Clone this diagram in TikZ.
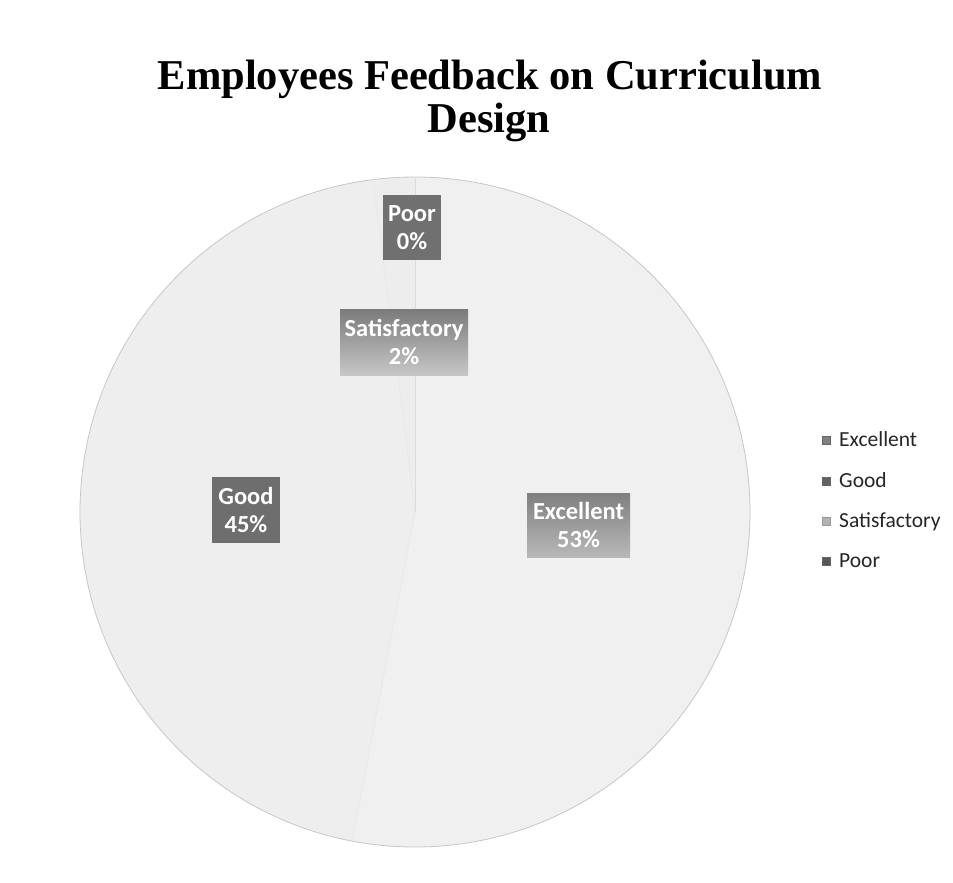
\documentclass[tikz,border=0pt]{standalone}
\usepackage{fontspec}
\setmainfont{Liberation Serif}
\newfontfamily\calfont{Carlito}
\begin{document}
\begin{tikzpicture}[x=1pt,y=-1pt,
  titletext/.style={font=\fontsize{42.5}{46}\selectfont\bfseries, text=black, anchor=base, inner sep=0},
  slice/.style={draw=black!14, line width=0.8pt},
  lbl/.style={font=\calfont\bfseries\fontsize{24.5}{28}\selectfont, text=white, align=center, inner sep=0},
  legtext/.style={font=\calfont\fontsize{21.5}{24}\selectfont, text=black!85, anchor=base west, inner sep=0},
  legmark/.style={minimum size=8pt, inner sep=0, draw=black!60, line width=0.4pt}
]
\useasboundingbox (0,0) rectangle (953,883);
\fill[white] (0,0) rectangle (953,883);
% pie (polar angles are mirrored because y points down)
\coordinate (c) at (415,512);
\fill[black!6] (c) -- ++(-90:335) arc[start angle=-90, end angle=100.8, radius=335] -- cycle;
\fill[black!6.5] (c) -- ++(100.8:335) arc[start angle=100.8, end angle=262.8, radius=335] -- cycle;
\fill[black!7] (c) -- ++(262.8:335) arc[start angle=262.8, end angle=270, radius=335] -- cycle;
\draw[black!22, line width=0.8pt] (c) circle[radius=335];
\draw[slice] (c) -- ++(0,-335);
\draw[slice, draw=black!9] (c) -- ++(-62.8,329);
\draw[slice, draw=black!9] (c) -- ++(-42,-332.4);
% title
\node[titletext] (t1) at (490,89) {Employees Feedback on Curriculum};
\node[titletext] (t2) at (489,132.7) {Design};
% data labels
\node[lbl, fill=black!56, minimum width=58pt, minimum height=65pt] (poor) at (412,227.5) {Poor\\0\%};
\node[lbl, top color=black!52, bottom color=black!22, minimum width=128pt, minimum height=66pt] (sat) at (404,342) {Satisfactory\\2\%};
\node[lbl, fill=black!57, minimum width=68pt, minimum height=66pt] (good) at (246,510) {Good\\45\%};
\node[lbl, top color=black!50, bottom color=black!28, minimum width=103pt, minimum height=64pt] (exc) at (578.5,525) {Excellent\\53\%};
% legend
\node[legmark, fill=black!50] (m1) at (826,440.5) {};
\node[legtext] (l1) at (839,446.5) {Excellent};
\node[legmark, fill=black!62] (m2) at (826,481) {};
\node[legtext] (l2) at (839,487) {Good};
\node[legmark, fill=black!30, draw=black!40] (m3) at (826,521) {};
\node[legtext] (l3) at (839,527) {Satisfactory};
\node[legmark, fill=black!66] (m4) at (826,561.5) {};
\node[legtext] (l4) at (839,567.5) {Poor};
\end{tikzpicture}
\end{document}
